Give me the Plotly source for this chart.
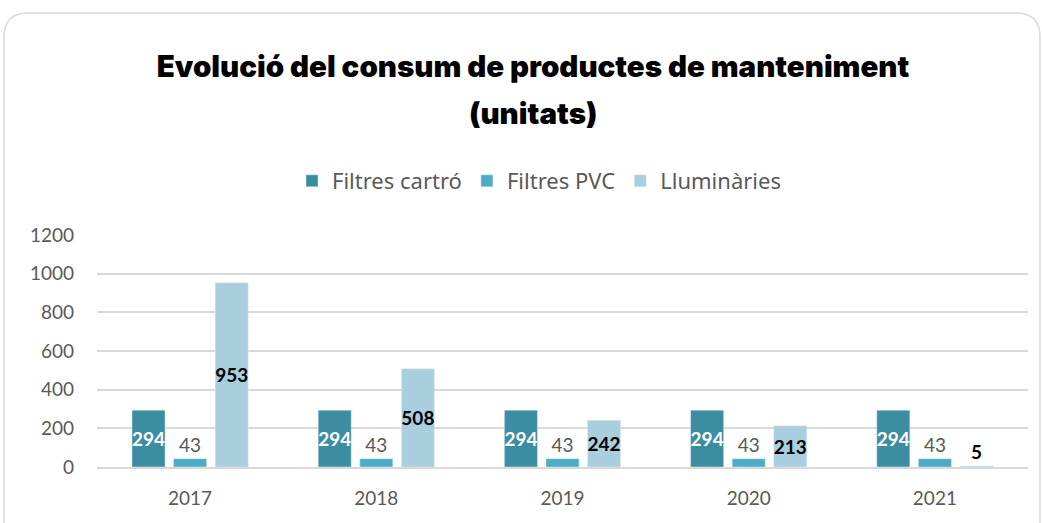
import plotly.graph_objects as go

years = ["2017", "2018", "2019", "2020", "2021"]
filtres_cartro = [294, 294, 294, 294, 294]
filtres_pvc = [43, 43, 43, 43, 43]
lluminaries = [953, 508, 242, 213, 5]
y_ticks = [0, 200, 400, 600, 800, 1000, 1200]

W, H = 1042, 523
ML, MR, MT, MB = 97, 14, 235, 56
pw, ph = W - ML - MR, H - MT - MB

label_font = "Lato, 'Open Sans', sans-serif"
grey = "#595959"

fig = go.Figure()
fig.add_trace(go.Bar(
    name="Filtres cartró", x=years, y=filtres_cartro,
    marker_color="#3C8CA2",
    text=[str(v) for v in filtres_cartro], textposition="inside", textangle=0,
    insidetextanchor="middle", constraintext="none",
    insidetextfont=dict(family=label_font, size=19, color="white", weight="bold"),
    hoverinfo="skip",
))
fig.add_trace(go.Bar(
    name="Filtres PVC", x=years, y=filtres_pvc,
    marker_color="#4BACC6",
    text=[str(v) for v in filtres_pvc], textposition="outside", textangle=0,
    constraintext="none", cliponaxis=False,
    outsidetextfont=dict(family=label_font, size=19, color=grey),
    hoverinfo="skip",
))
fig.add_trace(go.Bar(
    name="Lluminàries", x=years, y=lluminaries,
    marker_color="#A9CEDD",
    text=[str(v) for v in lluminaries], textangle=0,
    textposition=["inside" if v > 50 else "outside" for v in lluminaries],
    insidetextanchor="middle", constraintext="none", cliponaxis=False,
    insidetextfont=dict(family=label_font, size=19, color="black", weight="bold"),
    outsidetextfont=dict(family=label_font, size=19, color="black", weight="bold"),
    hoverinfo="skip",
))

# rounded frame around the chart (pixel -> paper conversion)
def px_x(x):
    return (x - ML) / pw

def px_y(y):
    return (H - MB - y) / ph

x0, x1, y0, y1, r = 4, 1040, 13, 540, 24
path = (
    f"M {px_x(x0)},{px_y(y1)} L {px_x(x0)},{px_y(y0 + r)} "
    f"Q {px_x(x0)},{px_y(y0)} {px_x(x0 + r)},{px_y(y0)} "
    f"L {px_x(x1 - r)},{px_y(y0)} "
    f"Q {px_x(x1)},{px_y(y0)} {px_x(x1)},{px_y(y0 + r)} "
    f"L {px_x(x1)},{px_y(y1)}"
)

title_font = dict(family="Inter, 'Liberation Sans', sans-serif", size=29.5,
                  color="black", weight=900)

fig.update_layout(
    width=W, height=H,
    margin=dict(l=ML, r=MR, t=MT, b=MB),
    paper_bgcolor="white", plot_bgcolor="white",
    barmode="group", bargap=0.33, bargroupgap=0.205,
    title=dict(
        text="Evolució del consum de productes de manteniment",
        x=px_x(533), xref="paper", xanchor="center", y=1 - 67 / H, yanchor="middle",
        font=title_font,
    ),
    annotations=[dict(
        text="(unitats)", xref="paper", yref="paper",
        x=px_x(533), y=px_y(113), xanchor="center", yanchor="middle",
        showarrow=False, font=title_font,
    )],
    legend=dict(
        orientation="h", x=px_x(539), xanchor="center", y=px_y(181),
        yanchor="middle",
        font=dict(family="'Noto Sans', Arial, sans-serif", size=22, color=grey),
        itemwidth=30, bgcolor="rgba(0,0,0,0)",
    ),
    xaxis=dict(
        showgrid=False, showline=True, linecolor="#D9D9D9", linewidth=1.5,
        ticks="", tickfont=dict(family=label_font, size=19, color=grey),
        ticklabelstandoff=13,
    ),
    yaxis=dict(
        range=[0, 1200], tickvals=y_ticks, showgrid=True,
        gridcolor="#D9D9D9", gridwidth=1.5, zeroline=False, showline=False,
        ticks="", tickfont=dict(family=label_font, size=19, color=grey),
        ticklabelstandoff=22,
    ),
    shapes=[dict(type="path", path=path, xref="paper", yref="paper",
                 line=dict(color="#D9D9D9", width=1.5), layer="below")],
    showlegend=True,
)

fig.write_html("out.html", config={"displayModeBar": False},
               post_script="document.body.style.margin='0';")
